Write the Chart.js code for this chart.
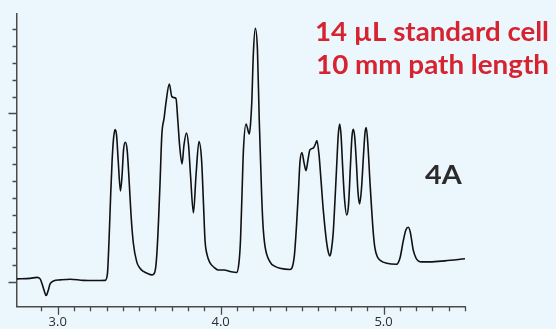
<!DOCTYPE html>
<html>
<head>
<meta charset="utf-8">
<script src="https://cdn.jsdelivr.net/npm/chart.js@4.4.1/dist/chart.umd.min.js"></script>
<style>
  html, body { margin: 0; padding: 0; background: #ebf6fd; }
  #wrap { width: 556px; height: 329px; position: relative; }
</style>
</head>
<body>
<div id="wrap"><canvas id="chromdiv"></canvas></div>
<script>
// retention time (min) and detector response
var times = [2.75, 2.831, 2.872, 2.892, 2.902, 2.917, 2.929, 2.941, 2.953, 2.974,
  3.015, 3.076, 3.158, 3.229, 3.291, 3.305, 3.315, 3.325, 3.334, 3.343,
  3.352, 3.361, 3.371, 3.385, 3.395, 3.404, 3.415, 3.426, 3.438, 3.450,
  3.464, 3.485, 3.506, 3.526, 3.555, 3.577, 3.588, 3.601, 3.610, 3.619,
  3.628, 3.639, 3.653, 3.665, 3.685, 3.700, 3.714, 3.726, 3.737, 3.748,
  3.763, 3.775, 3.790, 3.803, 3.815, 3.833, 3.849, 3.867, 3.883, 3.895,
  3.904, 3.917, 3.935, 3.960, 3.984, 4.021, 4.058, 4.098, 4.113, 4.122,
  4.131, 4.140, 4.156, 4.176, 4.183, 4.191, 4.201, 4.213, 4.226, 4.237,
  4.252, 4.260, 4.272, 4.303, 4.334, 4.364, 4.426, 4.438, 4.453, 4.466,
  4.478, 4.487, 4.499, 4.512, 4.524, 4.536, 4.548, 4.569, 4.582, 4.591,
  4.604, 4.616, 4.630, 4.651, 4.662, 4.671, 4.680, 4.691, 4.702, 4.712,
  4.722, 4.731, 4.739, 4.749, 4.760, 4.774, 4.785, 4.797, 4.806, 4.814,
  4.823, 4.834, 4.843, 4.853, 4.864, 4.877, 4.886, 4.894, 4.904, 4.917,
  4.937, 4.947, 4.961, 4.984, 5.019, 5.080, 5.101, 5.121, 5.137, 5.152,
  5.165, 5.182, 5.199, 5.213, 5.234, 5.285, 5.377, 5.5];
var response = [0.19, 0.22, 0.28, 0.19, -0.05, -0.52, -0.80, -0.52, -0.11, 0.07,
  0.13, 0.17, 0.10, 0.09, 0.10, 0.49, 2.50, 5.17, 7.24, 8.55,
  9.05, 8.73, 7.24, 5.41, 6.35, 7.84, 8.29, 7.84, 6.06, 3.98,
  2.32, 1.20, 0.81, 0.63, 0.49, 0.43, 0.46, 0.84, 1.91, 3.69,
  5.88, 8.73, 9.73, 10.68, 11.75, 11.01, 10.94, 10.89, 9.61, 8.13,
  7.01, 8.13, 8.84, 8.13, 6.35, 4.10, 6.35, 8.33, 7.24, 4.58,
  2.50, 1.61, 1.14, 0.87, 0.72, 0.72, 0.63, 0.57, 1.20, 2.50,
  5.17, 7.84, 9.38, 8.78, 9.32, 10.62, 13.59, 15.05, 13.76, 9.61,
  5.11, 3.39, 2.15, 1.20, 0.93, 0.82, 0.75, 0.84, 1.61, 3.39,
  5.47, 7.13, 7.69, 7.07, 6.61, 7.24, 7.84, 7.95, 8.19, 8.40,
  7.54, 6.06, 4.28, 2.32, 1.73, 1.55, 1.91, 2.92, 4.87, 6.83,
  8.73, 9.38, 8.73, 6.83, 4.99, 3.98, 4.58, 6.95, 8.61, 9.06,
  8.61, 6.95, 5.35, 4.64, 5.47, 7.54, 8.84, 9.16, 8.13, 5.88,
  2.92, 2.03, 1.52, 1.26, 1.12, 1.06, 1.43, 2.44, 3.09, 3.25,
  2.92, 1.91, 1.43, 1.26, 1.20, 1.20, 1.26, 1.38];

var xMin = 2.75, xMax = 5.5;
var yMin = -1.46, yMax = 15.9;
var xLabels = [3, 4, 5];
var captionLines = ["14 \u00b5L standard cell", "10 mm path length"];
var panelLabel = "4A";

var points = times.map(function (t, i) { return { x: t, y: response[i] }; });

var axisColor = '#4a4a4a';

// hand drawn tick marks, major ones a bit longer
var tickMarks = {
  id: 'tickMarks',
  afterDraw: function (chart) {
    var ctx = chart.ctx, xs = chart.scales.x, ys = chart.scales.y;
    var area = chart.chartArea;
    ctx.save();
    ctx.strokeStyle = axisColor;
    ctx.lineWidth = 1.3;
    ctx.beginPath();
    xs.ticks.forEach(function (t) {
      var tenth = Math.round(t.value * 10);
      if (Math.abs(t.value * 10 - tenth) > 1e-6) return;
      var px = Math.round(xs.getPixelForValue(t.value)) + 0.5;
      var len = (tenth % 10 === 0) ? 8 : 4.5;
      ctx.moveTo(px, area.bottom);
      ctx.lineTo(px, area.bottom + len);
    });
    ys.ticks.forEach(function (t) {
      var v = Math.round(t.value);
      if (Math.abs(t.value - v) > 1e-6) return;
      var py = Math.round(ys.getPixelForValue(t.value)) + 0.5;
      var len = (v % 10 === 0) ? 8.5 : 4.5;
      ctx.moveTo(area.left, py);
      ctx.lineTo(area.left - len, py);
    });
    ctx.stroke();
    ctx.restore();
  }
};

// red caption on the right and the panel label
var captions = {
  id: 'captions',
  afterDraw: function (chart) {
    var ctx = chart.ctx;
    ctx.save();
    ctx.fillStyle = '#d52330';
    ctx.font = 'bold 26px Lato';
    ctx.textBaseline = 'alphabetic';
    var widths = [234, 233];
    var bases = [40.7, 74];
    captionLines.forEach(function (s, i) {
      var w = ctx.measureText(s).width;
      ctx.save();
      ctx.translate(549 - widths[i], bases[i]);
      ctx.scale(widths[i] / w, 1);
      ctx.fillText(s, 0, 0);
      ctx.restore();
    });
    ctx.fillStyle = '#2b2b2b';
    var w4 = ctx.measureText(panelLabel).width;
    ctx.translate(425, 184);
    ctx.scale(36.7 / w4, 1);
    ctx.fillText(panelLabel, 0, 0);
    ctx.restore();
  }
};

var chart = new Chart(document.getElementById('chromdiv'), {
  type: 'line',
  data: {
    datasets: [{
      data: points,
      borderColor: '#111111',
      borderWidth: 1.6,
      pointRadius: 0,
      fill: false,
      cubicInterpolationMode: 'monotone'
    }]
  },
  plugins: [tickMarks, captions],
  options: {
    responsive: true,
    maintainAspectRatio: false,
    animation: false,
    layout: { padding: { left: 0, right: 91, top: 14, bottom: 0 } },
    plugins: { legend: { display: false }, tooltip: { enabled: false } },
    scales: {
      x: {
        type: 'linear',
        min: xMin,
        max: xMax,
        afterFit: function (s) { s.height = 22.3; },
        grid: { display: false, drawTicks: false },
        border: { display: true, color: axisColor, width: 1.5 },
        ticks: {
          stepSize: 0.1,
          autoSkip: false,
          maxRotation: 0,
          padding: 8,
          color: '#2e2e2e',
          font: { family: 'Open Sans', size: 13 },
          callback: function (v) {
            for (var i = 0; i < xLabels.length; i++) {
              if (Math.abs(v - xLabels[i]) < 1e-6) return xLabels[i].toFixed(1);
            }
            return '';
          }
        }
      },
      y: {
        min: yMin,
        max: yMax,
        afterFit: function (s) { s.width = 17; },
        grid: { display: false, drawTicks: false },
        border: { display: true, color: axisColor, width: 1.5 },
        ticks: { stepSize: 1, display: false }
      }
    }
  }
});
</script>
</body>
</html>
